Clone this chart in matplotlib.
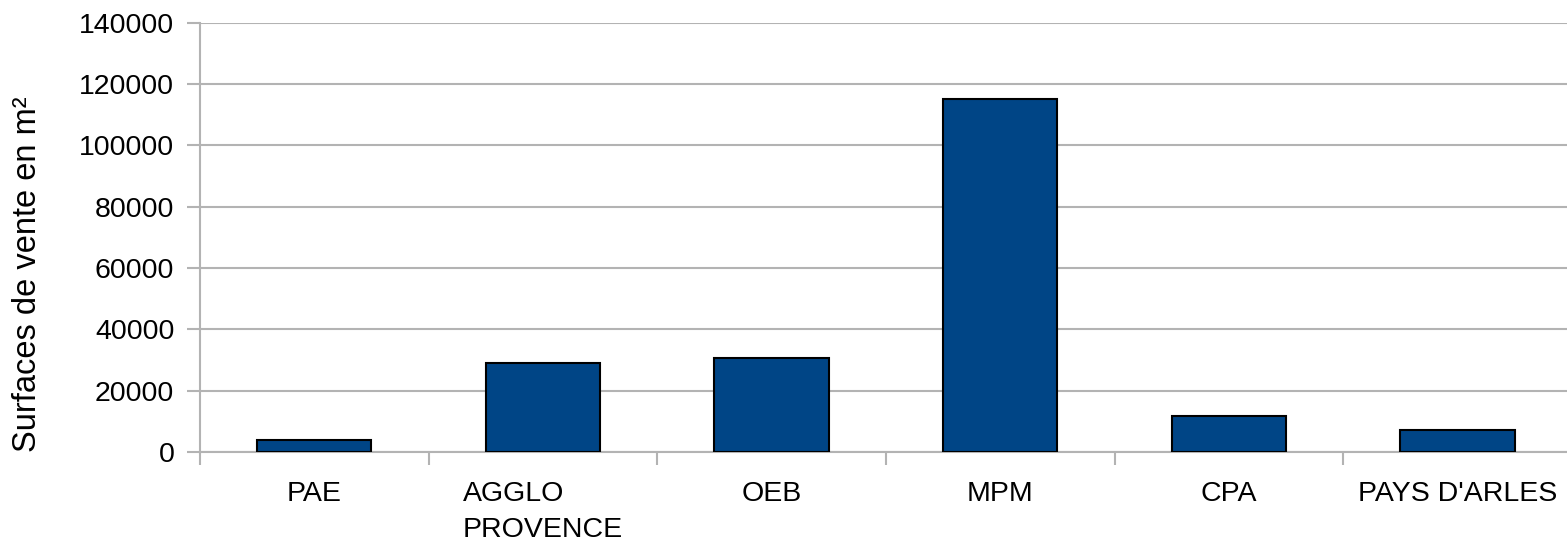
import numpy as np
import matplotlib
matplotlib.use("Agg")
import matplotlib.pyplot as plt
from matplotlib.ticker import FixedLocator

plt.rcParams['font.family'] = ['Liberation Sans', 'DejaVu Sans']

# surfaces de vente par territoire (m²)
territoires = ["PAE", "AGGLO\nPROVENCE", "OEB", "MPM", "CPA", "PAYS D'ARLES"]
surfaces = [3800, 28900, 30600, 115000, 11700, 7300]
yticks = [0, 20000, 40000, 60000, 80000, 100000, 120000, 140000]

W, H = 1567, 542
fig = plt.figure(figsize=(W / 100, H / 100), dpi=100)
# plot area: left edge at x=200px, bottom at y=452px, runs slightly past the right border
ax = fig.add_axes([200 / W, (H - 452) / H, 1372 / W, (452 - 22.7) / H])

grey = "#b3b3b3"
x = np.arange(len(territoires))
ax.bar(x, surfaces, width=0.5, color="#004586", edgecolor="black",
       linewidth=1.5, zorder=3)

ax.set_xlim(-0.5, len(territoires) - 0.5)
ax.set_ylim(0, 140000)
ax.set_yticks(yticks)
ax.set_yticklabels([str(v) for v in yticks])
ax.yaxis.grid(True, color=grey, linewidth=1.5, zorder=0)

# category boundaries get the tick marks, labels sit at the centres
ax.xaxis.set_major_locator(FixedLocator(np.arange(-0.5, len(territoires) + 0.5, 1.0)))
ax.xaxis.set_major_formatter(plt.NullFormatter())
ax.xaxis.set_minor_locator(FixedLocator(x))
ax.set_xticklabels(territoires, minor=True)
ax.tick_params(axis="x", which="minor", length=0, pad=21, labelsize=20.5)
ax.tick_params(axis="x", which="major", length=9, width=1.5, color=grey, direction="out")
ax.tick_params(axis="y", length=9.5, width=1.5, color=grey, pad=9, labelsize=20.5)
for lbl in ax.get_xticklabels(minor=True):
    lbl.set_multialignment("left")
    lbl.set_linespacing(1.5)

for side in ("top", "right"):
    ax.spines[side].set_visible(False)
for side in ("left", "bottom"):
    ax.spines[side].set_color(grey)
    ax.spines[side].set_linewidth(1.5)

fig.text(12 / W, (H - 274) / H, "Surfaces de vente en m²", rotation=90,
         ha="left", va="center", fontsize=23.5)

fig.savefig("out.png", dpi=100)
